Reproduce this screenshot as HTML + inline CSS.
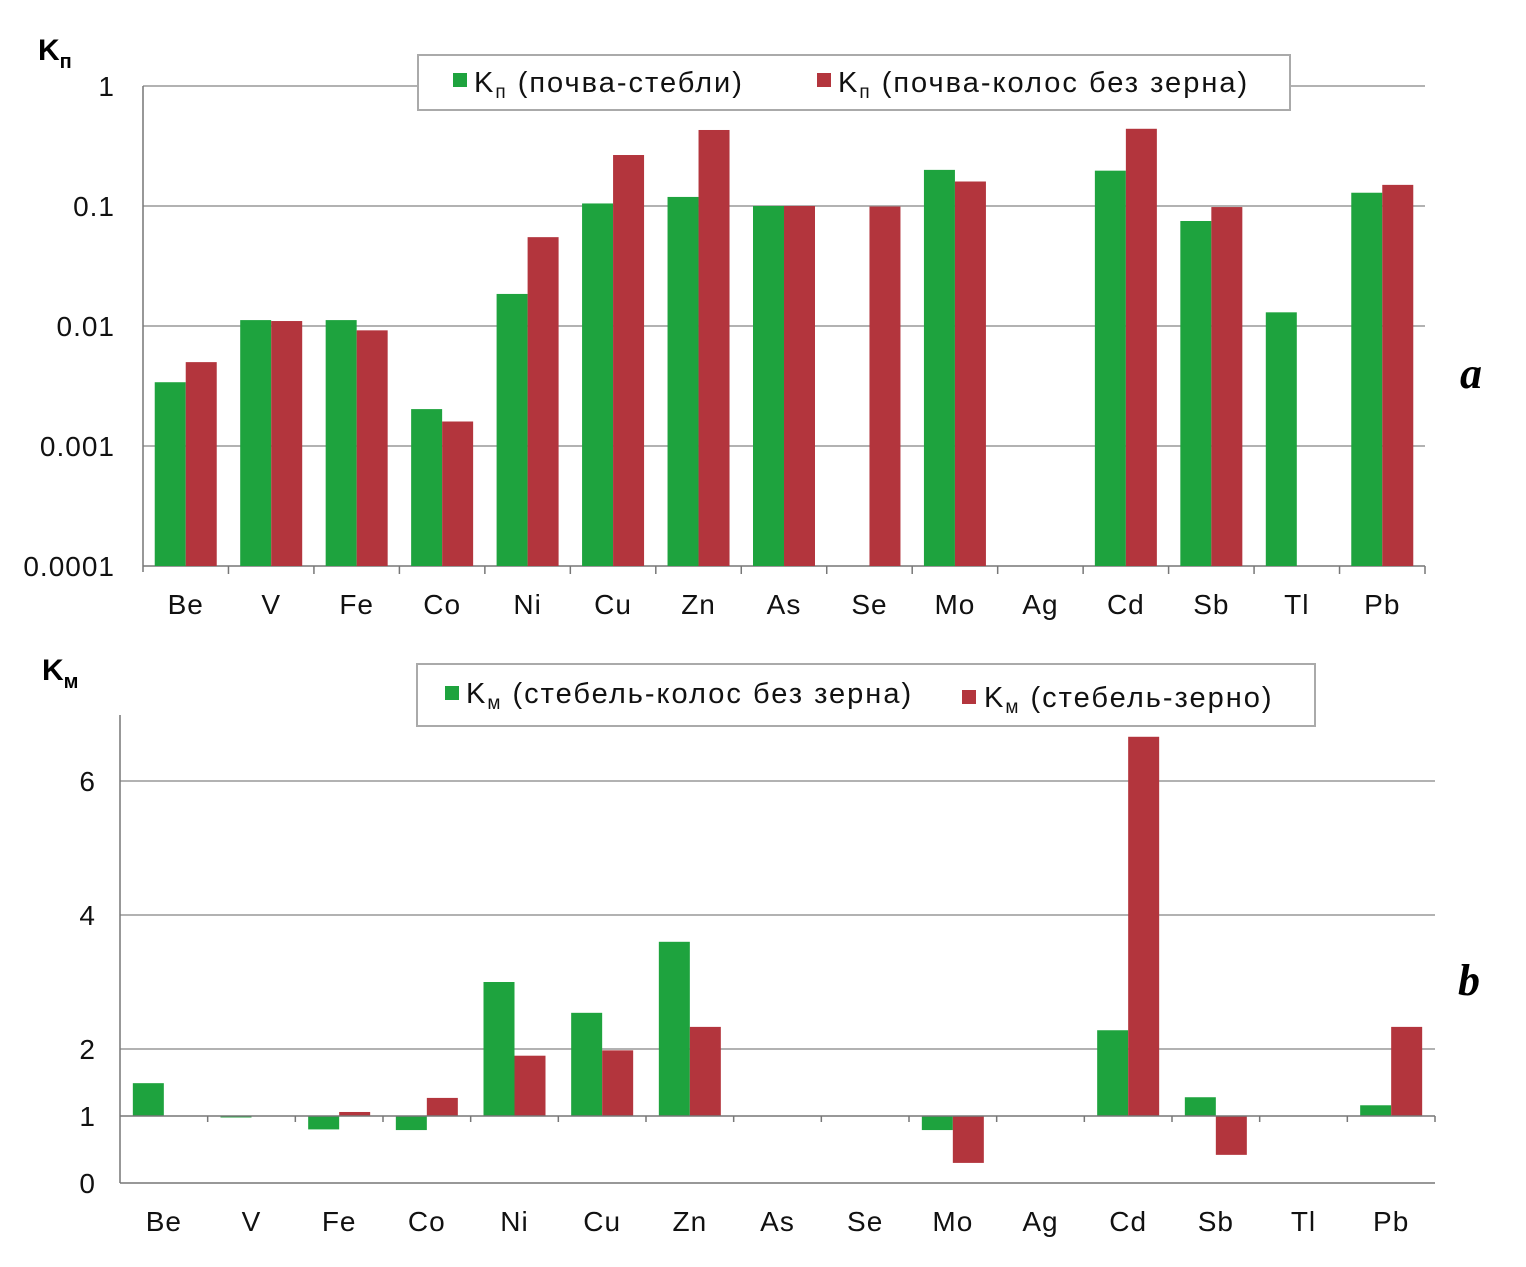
<!DOCTYPE html>
<html><head><meta charset="utf-8">
<style>
body{margin:0;background:#fff;}
svg{display:block;font-family:"Liberation Sans",sans-serif;}
</style></head>
<body>
<svg id="c" width="1526" height="1267" viewBox="0 0 1526 1267"></svg>
<script>
const categories=["Be","V","Fe","Co","Ni","Cu","Zn","As","Se","Mo","Ag","Cd","Sb","Tl","Pb"];
const kpStems=[0.0034,0.0112,0.0112,0.00203,0.0185,0.105,0.119,0.1,null,0.2,null,0.197,0.075,0.013,0.129];
const kpEars=[0.005,0.011,0.0092,0.0016,0.055,0.266,0.43,0.1,0.099,0.16,null,0.44,0.098,null,0.15];
const kmEars=[1.49,0.98,0.8,0.79,3.0,2.54,3.6,null,null,0.79,null,2.28,1.28,null,1.16];
const kmGrain=[null,null,1.06,1.27,1.9,1.98,2.33,null,null,0.3,null,6.66,0.42,null,2.33];
const topTicks=["0.0001","0.001","0.01","0.1","1"];
const botTicks=[0,1,2,4,6];
const G="#1ea33e",R="#b3353d";
const svg=document.getElementById('c');const NS="http://www.w3.org/2000/svg";
function el(t,a,txt){const e=document.createElementNS(NS,t);for(const k in a)e.setAttribute(k,a[k]);if(txt!=null)e.textContent=txt;svg.appendChild(e);return e;}
const tx0=143,tx1=1425;const tw=(tx1-tx0)/categories.length;
const ty=v=>566-(Math.log10(v)+4)*120;
topTicks.forEach((t,i)=>{const y=ty(parseFloat(t));
const l=el('line',{x1:tx0,x2:tx1,y1:y,y2:y,stroke:i==0?'#777':'#999','stroke-width':1.5});

const s=el('text',{x:115,y:y+10,'font-size':28,'letter-spacing':1,'text-anchor':'end',fill:'#111'},t);
});
el('line',{x1:tx0,x2:tx0,y1:86,y2:572,stroke:'#777','stroke-width':1.5});
categories.forEach((c,i)=>{const cx=tx0+tw*(i+0.5);
el('line',{x1:tx0+tw*(i+1),x2:tx0+tw*(i+1),y1:566,y2:574,stroke:'#777','stroke-width':1.5});
const lb=el('text',{x:cx,y:614,'font-size':28,'letter-spacing':1,'text-anchor':'middle',fill:'#111'},c);

if(kpStems[i]!=null){const y=ty(kpStems[i]);const b=el('rect',{x:cx-31,y:y,width:31,height:566-y,fill:G});
}
if(kpEars[i]!=null){const y=ty(kpEars[i]);const b=el('rect',{x:cx,y:y,width:31,height:566-y,fill:R});
}});
const bx0=120,bx1=1435;const bw=(bx1-bx0)/categories.length;
const by=v=>1183-v*67;
botTicks.forEach(t=>{const y=by(t);
if(t>1){const l=el('line',{x1:bx0,x2:bx1,y1:y,y2:y,stroke:'#999','stroke-width':1.5});
}
const s=el('text',{x:95,y:y+10,'font-size':28,'text-anchor':'end',fill:'#111'},String(t));
});
el('line',{x1:bx0,x2:bx0,y1:715,y2:1183,stroke:'#777','stroke-width':1.5});
el('line',{x1:bx0,x2:bx1,y1:1183,y2:1183,stroke:'#777','stroke-width':1.5});
categories.forEach((c,i)=>{const cx=bx0+bw*(i+0.5);const base=by(1);
el('line',{x1:bx0+bw*(i+1),x2:bx0+bw*(i+1),y1:base,y2:base+6,stroke:'#777','stroke-width':1.5});
const lb=el('text',{x:cx,y:1231,'font-size':28,'letter-spacing':1,'text-anchor':'middle',fill:'#111'},c);

if(kmEars[i]!=null){const y=by(kmEars[i]);const b=el('rect',{x:cx-31,y:Math.min(y,base),width:31,height:Math.max(Math.abs(base-y),1.5),fill:G});
}
if(kmGrain[i]!=null){const y=by(kmGrain[i]);const b=el('rect',{x:cx,y:Math.min(y,base),width:31,height:Math.max(Math.abs(base-y),1.5),fill:R});
}});
el('line',{x1:bx0,x2:bx1,y1:by(1),y2:by(1),stroke:'#777','stroke-width':1.5});
</script>
<svg style="position:absolute;left:0;top:0" width="1526" height="1267">
<text x="38" y="60" font-size="30" font-weight="bold" font-family="Liberation Sans,sans-serif">K<tspan font-size="20" dy="8">п</tspan></text>
<text x="42" y="680" font-size="30" font-weight="bold" font-family="Liberation Sans,sans-serif">K<tspan font-size="20" dy="8">м</tspan></text>
<g>
<rect x="418" y="55" width="872" height="55" fill="#fff" stroke="#aaa" stroke-width="2"/>
<rect x="453" y="73" width="14" height="14" fill="#1ea33e"/>
<text x="474" y="92" font-size="29" letter-spacing="2" font-family="Liberation Sans,sans-serif" fill="#111">K<tspan font-size="19" dy="6">п</tspan><tspan dy="-6"> (почва-стебли)</tspan></text>
<rect x="817" y="73" width="14" height="14" fill="#b3353d"/>
<text x="838" y="92" font-size="29" letter-spacing="2" font-family="Liberation Sans,sans-serif" fill="#111">K<tspan font-size="19" dy="6">п</tspan><tspan dy="-6"> (почва-колос без зерна)</tspan></text>
</g>
<g>
<rect x="417" y="664" width="898" height="62" fill="#fff" stroke="#aaa" stroke-width="2"/>
<rect x="445" y="686" width="14" height="14" fill="#1ea33e"/>
<text x="466" y="703" font-size="29" letter-spacing="2" font-family="Liberation Sans,sans-serif" fill="#111">K<tspan font-size="19" dy="6">м</tspan><tspan dy="-6"> (стебель-колос без зерна)</tspan></text>
<rect x="962" y="690" width="14" height="14" fill="#b3353d"/>
<text x="984" y="707" font-size="29" letter-spacing="2" font-family="Liberation Sans,sans-serif" fill="#111">K<tspan font-size="19" dy="6">м</tspan><tspan dy="-6"> (стебель-зерно)</tspan></text>
</g>
<text x="1460" y="388" font-size="44" font-style="italic" font-weight="bold" font-family="Liberation Serif,serif">a</text>
<text x="1458" y="995" font-size="44" font-style="italic" font-weight="bold" font-family="Liberation Serif,serif">b</text>
</svg>
</body></html>
